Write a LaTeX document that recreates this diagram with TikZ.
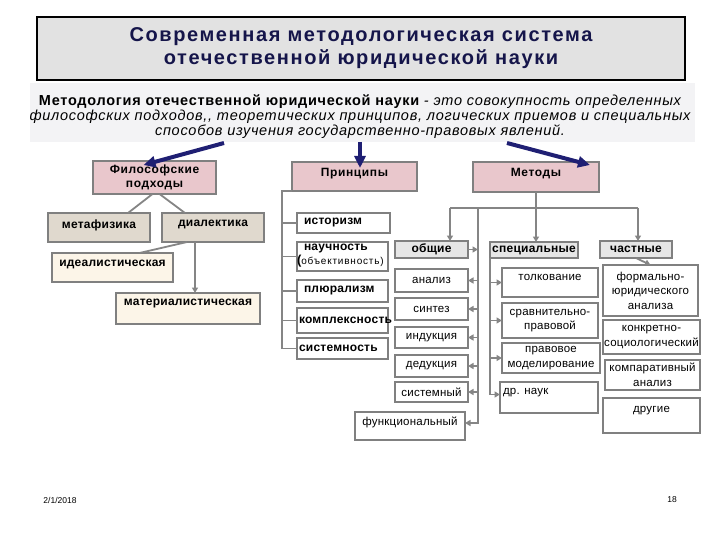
\documentclass[tikz,border=0pt]{standalone}
\usepackage{fontspec}
\setmainfont{Liberation Sans}
\newfontfamily\ttlfont[LetterSpace=8]{Liberation Sans}
\newfontfamily\lsA[LetterSpace=2]{Liberation Sans}
\newfontfamily\lsB[LetterSpace=5]{Liberation Sans}
\newfontfamily\lsC[LetterSpace=8]{Liberation Sans}
\usetikzlibrary{arrows.meta}
\definecolor{pinkc}{HTML}{E9C7CC}
\definecolor{beige}{HTML}{E0D9CE}
\definecolor{cream}{HTML}{FCF5E8}
\definecolor{hgray}{HTML}{E6E6E6}
\definecolor{bord}{HTML}{808080}
\definecolor{connc}{HTML}{858585}
\definecolor{navy}{HTML}{1F1F73}
\definecolor{navytxt}{HTML}{15154A}
\definecolor{titlefill}{HTML}{E2E2E2}
\definecolor{band}{HTML}{F3F3F5}
\newcommand\mkbox[8][]{%
  \pgfmathsetmacro\bw{#5-#3}\pgfmathsetmacro\bh{#6-#4}%
  \node[box,#1,minimum width=\bw pt,minimum height=\bh pt] (#2) at (#3,#4)
    {\parbox[c][\bh pt][#7]{\bw pt}{\centering #8}};}
\begin{document}
\begin{tikzpicture}[x=1pt,y=-1pt,
  box/.style={draw=bord, line width=1.5pt, inner sep=0pt, outer sep=0pt, anchor=north west},
  hdr/.style={box, fill=pinkc, font=\lsB\bfseries\fontsize{12}{14}\selectfont},
  lb/.style={box, font=\lsA\bfseries\fontsize{12}{14}\selectfont},
  pb/.style={box, fill=white, font=\lsA\bfseries\fontsize{12}{14}\selectfont},
  gh/.style={box, fill=hgray, font=\lsA\bfseries\fontsize{12}{14}\selectfont},
  mb/.style={box, fill=white, font=\lsA\fontsize{11.5}{14.5}\selectfont},
  conn/.style={draw=connc, line width=1.8pt},
  garr/.style={conn, -{Triangle[length=5.5pt,width=6pt]}},
  bigarr/.style={draw=navy, line width=4pt, -{Triangle[length=12pt,width=11pt]}}]
\useasboundingbox (0,0) rectangle (720,540);
\fill[white] (0,0) rectangle (720,540);
\fill[band] (30,83) rectangle (695,142);
% title
\node[draw=black, line width=1.2pt, fill=titlefill, minimum width=648pt, minimum height=63pt,
  inner sep=0pt, align=center, text=navytxt,
  font=\ttlfont\bfseries\fontsize{20}{23}\selectfont] (title) at (361,48.5)
  {Современная методологическая система\\отечественной юридической науки};
% subtitle
\node[align=center, font=\lsB\fontsize{14.5}{15}\selectfont] (sub) at (360,117)
  {{\bfseries Методология отечественной юридической науки} {\itshape - это совокупность определенных}\\
   {\itshape философских подходов,, теоретических принципов, логических приемов и специальных}\\
   {\itshape способов изучения государственно-правовых явлений.}};
% headers
\mkbox[hdr]{phil}{93}{161}{216}{194}{c}{Философские\\подходы}
\mkbox[hdr]{princ}{292}{162}{417}{191}{t}{\vspace*{6pt}Принципы}
\mkbox[hdr]{meth}{473}{162}{599}{192}{t}{\vspace*{6pt}Методы}
% big arrows
\coordinate (a1) at (224,143);
\coordinate (a2) at (360,142);
\coordinate (a3) at (507,143);
\draw[bigarr] (a1) -- ([xshift=-11pt,yshift=-4pt]phil.north);
\draw[bigarr] (a2) -- ([xshift=5.5pt,yshift=-6pt]princ.north);
\draw[bigarr] (a3) -- ([xshift=-9pt,yshift=-3pt]meth.north east);
% left branch
\mkbox[lb,fill=beige]{metaf}{48}{213}{150}{242}{t}{\vspace*{7pt}метафизика}
\mkbox[lb,fill=beige]{dial}{162}{213}{264}{242}{t}{\vspace*{7pt}диалектика}
\mkbox[lb,fill=cream]{ideal}{52}{253}{173}{282}{t}{\vspace*{7pt}идеалистическая}
\mkbox[lb,fill=cream]{mater}{116}{293}{260}{324}{t}{\vspace*{6pt}материалистическая}
\draw[conn] ([xshift=-2pt]phil.south) -- ([xshift=29pt]metaf.north);
\draw[conn] ([xshift=5pt]phil.south) -- ([xshift=-28pt]dial.north);
\draw[conn] ([xshift=-26pt]dial.south) -- ([xshift=27pt]ideal.north);
\draw[garr] ([xshift=-18pt]dial.south) -- ([xshift=-18pt]dial.south |- mater.north);
% principles
\mkbox[pb]{ist}{297}{213}{390}{233}{c}{\raggedright\hspace*{7pt}историзм}
\mkbox[pb]{nauch}{297}{242}{388}{271}{t}{\vspace*{2pt}\raggedright\hspace*{7pt}научность\\{\fontsize{13}{14}\selectfont(}{\lsC\mdseries\fontsize{10}{14}\selectfont объективность)}}
\mkbox[pb]{plur}{297}{280}{388}{302}{c}{\raggedright\hspace*{7pt}плюрализм}
\mkbox[pb]{kompl}{297}{308}{388}{333}{c}{\raggedright\hspace*{2pt}\makebox[0pt][l]{комплексность}}
\mkbox[pb]{sist}{297}{338}{388}{359}{c}{\raggedright\hspace*{2pt}системность}
\coordinate (pt) at (282,0);
\draw[conn] (princ.south west) -- (princ.south west -| pt) -- (sist.west -| pt) -- (sist.west);
\foreach \n in {ist,nauch,plur,kompl}{\draw[conn] (\n.west -| pt) -- (\n.west);}
% methods
\mkbox[gh]{obsch}{395}{241}{468}{258}{c}{общие}
\mkbox[gh]{spec}{490}{242}{578}{258}{c}{специальные}
\mkbox[gh]{chast}{600}{241}{672}{258}{c}{частные}
\mkbox[mb]{an}{395}{269}{468}{292}{c}{анализ}
\mkbox[mb]{sin}{395}{298}{468}{320}{c}{синтез}
\mkbox[mb]{ind}{395}{327}{468}{348}{c}{индукция}
\mkbox[mb]{ded}{395}{355}{468}{377}{c}{дедукция}
\mkbox[mb]{sysm}{395}{382}{468}{402}{c}{системный}
\mkbox[mb]{fun}{355}{412}{465}{440}{t}{\vspace*{5pt}функциональный}
\mkbox[mb]{tolk}{502}{268}{598}{297}{t}{\vspace*{6pt}толкование}
\mkbox[mb]{sravn}{502}{303}{598}{338}{c}{сравнительно-\\правовой}
\mkbox[mb]{pmod}{502}{343}{600}{373}{c}{правовое\\моделирование}
\mkbox[mb]{drn}{500}{382}{598}{413}{t}{\vspace*{6pt}\raggedright\hspace*{3pt}др. наук}
\mkbox[mb]{form}{603}{265}{698}{316}{c}{формально-\\юридического\\анализа}
\mkbox[mb]{konk}{603}{320}{700}{354}{c}{конкретно-\\социологический}
\mkbox[mb]{komp}{605}{360}{700}{390}{c}{компаративный\\анализ}
\mkbox[mb]{drug}{603}{398}{700}{433}{t}{\vspace*{8pt}другие}
\coordinate (hy) at (0,208);
\coordinate (ov) at (450,0);
\coordinate (ot) at (478,0);
\coordinate (cv) at (638,0);
\draw[garr] (meth.south) -- (meth.south |- spec.north);
\draw[conn] (ov |- hy) -- (cv |- hy);
\draw[garr] (ov |- hy) -- (ov |- obsch.north);
\draw[garr] (cv |- hy) -- (cv |- chast.north);
\draw[garr] (ot |- hy) -- ([yshift=3pt]fun.east -| ot) -- ([yshift=3pt]fun.east);
\foreach \n in {an,sin,ind,ded,sysm}{\draw[garr] (\n.east -| ot) -- (\n.east);}
\draw[garr] (obsch.east) -- (obsch.east -| ot);
\draw[garr] (spec.south west) -- ([yshift=3pt]drn.west -| spec.south west) -- ([yshift=3pt]drn.west);
\foreach \n in {tolk,sravn,pmod}{\draw[garr] (\n.west -| spec.south west) -- (\n.west);}
\draw[garr] (chast.south) -- (form.north);
% footer
\node[font=\fontsize{8.5}{10}\selectfont] (date) at (60,500) {2/1/2018};
\node[font=\fontsize{8.5}{10}\selectfont] (pg) at (672,500) {18};
\end{tikzpicture}
\end{document}
